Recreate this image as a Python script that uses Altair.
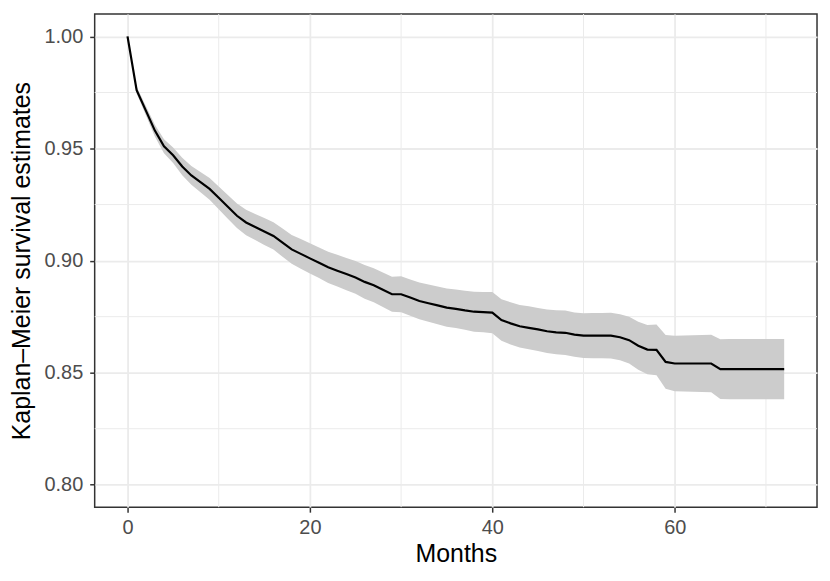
import altair as alt
import pandas as pd

months = list(range(73))

surv = [1.0000, 0.9760, 0.9670, 0.9580, 0.9510, 0.9470, 0.9420, 0.9380, 0.9350, 0.9320,
        0.9280, 0.9240, 0.9200, 0.9170, 0.9150, 0.9130, 0.9110, 0.9080, 0.9050, 0.9030,
        0.9010, 0.8990, 0.8970, 0.8955, 0.8940, 0.8925, 0.8905, 0.8890, 0.8870, 0.8850,
        0.8850, 0.8835, 0.8820, 0.8810, 0.8800, 0.8790, 0.8785, 0.8778, 0.8772, 0.8770,
        0.8768, 0.8735, 0.8720, 0.8707, 0.8700, 0.8693, 0.8685, 0.8680, 0.8678, 0.8670,
        0.8665, 0.8665, 0.8665, 0.8665, 0.8658, 0.8645, 0.8620, 0.8603, 0.8602, 0.8548,
        0.8541, 0.8541, 0.8541, 0.8541, 0.8541, 0.8516, 0.8516, 0.8516, 0.8516, 0.8516,
        0.8516, 0.8516, 0.8516]

lower = [1.0000, 0.9745, 0.9649, 0.9554, 0.9479, 0.9435, 0.9381, 0.9338, 0.9305, 0.9272,
         0.9229, 0.9187, 0.9145, 0.9113, 0.9092, 0.9070, 0.9049, 0.9017, 0.8986, 0.8964,
         0.8943, 0.8922, 0.8900, 0.8884, 0.8868, 0.8852, 0.8830, 0.8814, 0.8793, 0.8772,
         0.8770, 0.8754, 0.8738, 0.8727, 0.8716, 0.8705, 0.8699, 0.8691, 0.8683, 0.8680,
         0.8676, 0.8642, 0.8626, 0.8612, 0.8604, 0.8597, 0.8588, 0.8582, 0.8579, 0.8571,
         0.8565, 0.8564, 0.8564, 0.8563, 0.8555, 0.8541, 0.8513, 0.8493, 0.8489, 0.8428,
         0.8417, 0.8416, 0.8415, 0.8414, 0.8413, 0.8383, 0.8382, 0.8382, 0.8382, 0.8382,
         0.8382, 0.8382, 0.8382]

upper = [1.0000, 0.9775, 0.9691, 0.9606, 0.9541, 0.9505, 0.9459, 0.9422, 0.9395, 0.9368,
         0.9331, 0.9293, 0.9255, 0.9227, 0.9208, 0.9190, 0.9171, 0.9143, 0.9114, 0.9096,
         0.9077, 0.9058, 0.9040, 0.9026, 0.9012, 0.8998, 0.8980, 0.8966, 0.8947, 0.8928,
         0.8930, 0.8916, 0.8902, 0.8893, 0.8884, 0.8875, 0.8871, 0.8865, 0.8861, 0.8860,
         0.8860, 0.8828, 0.8814, 0.8802, 0.8796, 0.8789, 0.8782, 0.8778, 0.8777, 0.8769,
         0.8765, 0.8766, 0.8766, 0.8767, 0.8761, 0.8749, 0.8727, 0.8713, 0.8715, 0.8668,
         0.8665, 0.8666, 0.8667, 0.8668, 0.8669, 0.8649, 0.8650, 0.8650, 0.8650, 0.8650,
         0.8650, 0.8650, 0.8650]

x_major = [0, 20, 40, 60]
x_minor = [10, 30, 50, 70]
y_major = [0.80, 0.85, 0.90, 0.95, 1.00]
y_minor = [0.825, 0.875, 0.925, 0.975]

x_title = "Months"
y_title = "Kaplan\u2013Meier survival estimates"

df = pd.DataFrame({"month": months, "surv": surv, "lower": lower, "upper": upper})
df_xminor = pd.DataFrame({"month": x_minor})
df_yminor = pd.DataFrame({"surv": y_minor})

W, H = 725, 495
FONT = "Liberation Sans"

xscale = alt.Scale(domain=[-3.6, 75.6], nice=False, zero=False)
yscale = alt.Scale(domain=[0.79, 1.01], nice=False, zero=False)

xaxis = alt.Axis(values=x_major, grid=True, gridColor="#EBEBEB", gridWidth=1.8,
                 domain=False, ticks=True, tickColor="#333333", tickWidth=1.5, tickSize=5,
                 labelColor="#4D4D4D", labelFontSize=20, labelFont=FONT, labelPadding=5,
                 title=x_title, titleFont=FONT, titleFontSize=25, titleFontWeight="normal",
                 titleColor="#000000", titleY=55, titleBaseline="alphabetic")
yaxis = alt.Axis(values=y_major, format=".2f", grid=True, gridColor="#EBEBEB", gridWidth=1.8,
                 domain=False, ticks=True, tickColor="#333333", tickWidth=1.5, tickSize=5,
                 labelColor="#4D4D4D", labelFontSize=20, labelFont=FONT, labelPadding=7,
                 title=y_title, titleFont=FONT, titleFontSize=25, titleFontWeight="normal",
                 titleColor="#000000", titleAngle=270, titleX=-65, titleY=H / 2,
                 titleBaseline="alphabetic", titleAlign="center")

minor_x = alt.Chart(df_xminor).mark_rule(color="#EBEBEB", strokeWidth=1.0).encode(
    x=alt.X("month:Q", scale=xscale, axis=xaxis)
)
minor_y = alt.Chart(df_yminor).mark_rule(color="#EBEBEB", strokeWidth=1.0).encode(
    y=alt.Y("surv:Q", scale=yscale, axis=yaxis)
)

band = alt.Chart(df).mark_area(color="#CCCCCC", opacity=1).encode(
    x=alt.X("month:Q", scale=xscale, axis=xaxis),
    y=alt.Y("lower:Q", scale=yscale, axis=yaxis),
    y2="upper:Q",
)

line = alt.Chart(df).mark_line(color="#000000", strokeWidth=2.2).encode(
    x=alt.X("month:Q", scale=xscale, axis=xaxis),
    y=alt.Y("surv:Q", scale=yscale, axis=yaxis),
)

chart = alt.layer(minor_x, minor_y, band, line).properties(
    width=W, height=H,
    background="#FFFFFF",
    autosize=alt.AutoSizeParams(type="none"),
    padding={"left": 87, "top": 5, "right": 5, "bottom": 60},
).configure_view(
    stroke="#333333", strokeWidth=1.5
)

chart.save("out.html", embed_options={"renderer": "svg", "actions": False})
